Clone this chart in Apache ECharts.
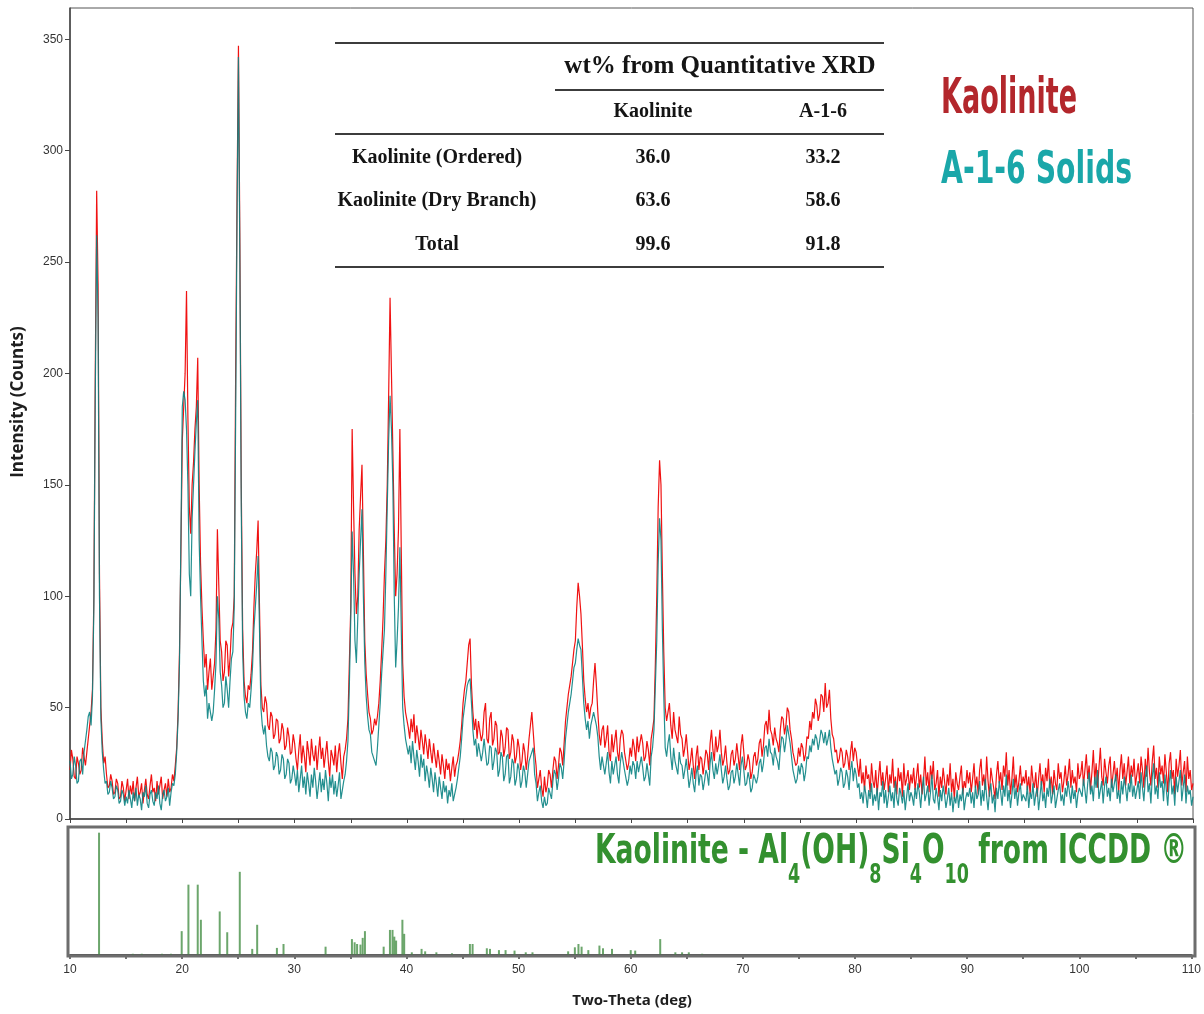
<!DOCTYPE html>
<html>
<head>
<meta charset="utf-8">
<script src="https://cdn.jsdelivr.net/npm/echarts@6/dist/echarts.min.js"></script>
<style>
  html, body { margin: 0; padding: 0; background: #fff; }
  #chart { width: 1204px; height: 1014px; }
</style>
</head>
<body>
<div id="chart"></div>
<script>
// XRD scan: 2-theta from 10 to 110 deg, 0.125 deg per step
const scanStart = 10;
const scanStep = 0.125;

// Kaolinite standard, counts (one row = 5 deg)
const kaoliniteCounts = [
  22, 31, 27, 19, 18, 28, 25, 20, 22, 32, 28, 24, 30, 36, 42, 48, 58, 100, 200, 282, 240, 110, 50, 35, 25, 28, 20, 14, 15, 20, 17, 11, 12, 18, 16, 9, 10, 17, 14, 8,
  13, 18, 9, 15, 11, 17, 8, 14, 19, 10, 12, 16, 7, 13, 18, 11, 9, 15, 20, 12, 14, 8, 17, 11, 15, 19, 9, 13, 16, 10, 18, 12, 14, 20, 17, 24, 32, 48, 75, 120,
  170, 185, 200, 237, 180, 140, 128, 150, 160, 175, 185, 207, 150, 115, 95, 80, 68, 74, 58, 66, 72, 58, 64, 70, 85, 130, 105, 80, 75, 62, 66, 80, 78, 64, 72, 85, 88, 100, 200, 280,
  347, 260, 150, 85, 62, 55, 52, 60, 58, 65, 75, 95, 110, 120, 134, 95, 60, 50, 48, 55, 52, 42, 40, 48, 46, 36, 38, 45, 44, 34, 36, 43, 40, 31, 33, 41, 37, 29, 30, 38,
  34, 27, 22, 31, 38, 25, 33, 28, 21, 35, 30, 24, 36, 29, 26, 33, 22, 30, 37, 27, 32, 23, 29, 35, 26, 19, 31, 28, 24, 33, 21, 29, 34, 25, 18, 28, 31, 36, 45, 70,
  95, 175, 140, 110, 92, 100, 130, 145, 159, 120, 80, 65, 56, 48, 45, 38, 40, 45, 42, 46, 52, 62, 75, 90, 110, 125, 150, 190, 234, 200, 165, 130, 100, 110, 130, 175, 120, 70, 55, 48,
  48, 41, 36, 45, 39, 47, 34, 42, 37, 31, 40, 35, 29, 38, 33, 27, 36, 30, 25, 34, 28, 23, 31, 26, 20, 29, 24, 18, 27, 22, 25, 17, 23, 28, 19, 24, 26, 30, 35, 42,
  52, 58, 62, 70, 78, 81, 60, 48, 40, 45, 36, 44, 44, 35, 38, 48, 52, 36, 34, 45, 48, 33, 36, 44, 42, 29, 30, 40, 37, 28, 32, 41, 40, 27, 30, 38, 35, 25, 28, 36,
  32, 22, 26, 34, 30, 22, 28, 36, 36, 48, 48, 30, 24, 14, 18, 22, 14, 10, 19, 12, 15, 22, 20, 14, 22, 28, 26, 18, 24, 32, 30, 24, 34, 44, 50, 56, 56, 64, 70, 76,
  80, 95, 106, 100, 92, 78, 62, 54, 48, 52, 45, 50, 52, 62, 70, 60, 48, 38, 33, 40, 42, 32, 36, 42, 30, 26, 38, 30, 35, 40, 30, 26, 36, 40, 38, 30, 30, 22, 25, 32,
  28, 36, 32, 26, 37, 30, 30, 38, 34, 26, 28, 35, 31, 24, 36, 40, 45, 70, 100, 140, 161, 150, 110, 75, 50, 44, 48, 52, 42, 36, 48, 40, 40, 34, 46, 38, 36, 28, 32, 38,
  30, 22, 26, 32, 24, 18, 28, 33, 22, 28, 27, 20, 25, 31, 29, 22, 34, 40, 31, 26, 37, 30, 33, 40, 30, 24, 27, 33, 25, 20, 22, 29, 31, 24, 27, 34, 28, 22, 33, 38,
  30, 22, 24, 29, 26, 18, 21, 28, 30, 24, 27, 34, 36, 28, 33, 42, 44, 38, 49, 40, 38, 33, 41, 36, 34, 30, 40, 46, 45, 38, 42, 50, 48, 40, 36, 30, 30, 24, 25, 32,
  28, 34, 32, 26, 29, 37, 36, 44, 40, 48, 45, 54, 51, 44, 47, 56, 55, 48, 61, 50, 52, 58, 45, 38, 36, 30, 31, 25, 27, 32, 30, 23, 25, 31, 28, 22, 30, 35, 26, 32,
  30, 24, 19, 27, 16, 21, 13, 24, 18, 20, 12, 25, 17, 14, 22, 11, 19, 26, 15, 21, 13, 18, 24, 12, 20, 16, 27, 14, 19, 11, 23, 17, 21, 10, 25, 15, 18, 22, 13, 20,
  16, 23, 13, 19, 25, 14, 20, 11, 17, 28, 15, 21, 12, 24, 18, 26, 13, 16, 22, 10, 19, 14, 23, 17, 11, 20, 15, 25, 12, 18, 9, 21, 16, 13, 19, 24, 11, 17, 14, 22,
  16, 21, 12, 18, 25, 14, 19, 11, 22, 27, 15, 20, 13, 28, 17, 10, 23, 18, 14, 9, 20, 26, 16, 21, 13, 24, 19, 30, 15, 22, 11, 18, 28, 14, 20, 12, 17, 24, 15, 19,
  16, 22, 13, 19, 11, 24, 17, 14, 21, 10, 18, 25, 15, 20, 12, 23, 17, 27, 14, 19, 11, 22, 16, 13, 25, 18, 21, 12, 17, 24, 15, 20, 27, 14, 22, 16, 19, 12, 25, 18,
  20, 26, 15, 22, 29, 18, 24, 13, 21, 31, 17, 25, 14, 23, 32, 19, 15, 27, 21, 16, 24, 28, 14, 20, 26, 17, 23, 12, 22, 29, 18, 25, 15, 21, 28, 16, 24, 19, 27, 15,
  20, 25, 16, 28, 22, 14, 27, 19, 32, 21, 15, 26, 33, 18, 23, 14, 28, 20, 24, 16, 29, 21, 12, 25, 30, 18, 22, 11, 27, 19, 24, 31, 15, 21, 26, 12, 28, 18, 22, 13, 16
];

// A-1-6 solids, counts (same scan)
const a16Counts = [
  26, 18, 20, 28, 24, 16, 17, 26, 27, 20, 30, 35, 40, 46, 48, 42, 55, 95, 190, 262, 225, 100, 45, 30, 22, 16, 17, 11, 12, 17, 14, 9, 10, 15, 13, 7, 8, 13, 11, 6,
  10, 7, 13, 9, 5, 12, 8, 14, 6, 11, 9, 4, 12, 10, 15, 7, 5, 11, 13, 8, 6, 12, 9, 15, 7, 4, 11, 13, 8, 10, 14, 6, 12, 16, 15, 20, 30, 45, 70, 125,
  185, 192, 188, 175, 150, 110, 100, 135, 150, 165, 178, 188, 125, 100, 80, 62, 55, 60, 45, 52, 52, 44, 48, 58, 70, 100, 90, 66, 60, 50, 52, 64, 58, 50, 62, 72, 75, 95, 180, 270,
  342, 250, 140, 75, 55, 48, 45, 52, 50, 58, 68, 85, 95, 105, 118, 85, 50, 42, 38, 42, 33, 28, 26, 32, 30, 22, 24, 30, 28, 20, 22, 29, 27, 18, 20, 27, 25, 16, 18, 24,
  20, 15, 22, 12, 18, 24, 14, 19, 11, 21, 16, 10, 20, 14, 23, 17, 9, 15, 21, 12, 18, 13, 22, 16, 8, 19, 14, 20, 11, 17, 10, 15, 21, 9, 13, 17, 20, 26, 35, 60,
  90, 129, 110, 80, 70, 90, 110, 125, 139, 100, 70, 55, 46, 40, 38, 30, 30, 26, 24, 32, 42, 52, 65, 75, 85, 110, 140, 170, 190, 175, 150, 100, 68, 80, 95, 122, 85, 50, 42, 36,
  36, 29, 33, 25, 35, 28, 22, 31, 26, 19, 29, 23, 27, 17, 24, 20, 14, 23, 18, 12, 21, 16, 10, 19, 14, 9, 17, 12, 15, 7, 13, 10, 16, 8, 11, 14, 18, 23, 28, 36,
  45, 50, 55, 60, 62, 63, 52, 40, 33, 36, 28, 34, 34, 26, 30, 36, 36, 24, 25, 33, 32, 22, 26, 32, 30, 19, 22, 30, 28, 17, 20, 28, 29, 16, 19, 27, 25, 15, 18, 25,
  22, 14, 17, 24, 21, 14, 20, 26, 26, 30, 32, 20, 16, 8, 12, 15, 8, 5, 10, 6, 7, 14, 14, 9, 17, 22, 20, 13, 18, 25, 23, 18, 26, 36, 42, 48, 48, 56, 62, 68,
  70, 76, 81, 78, 76, 64, 52, 45, 40, 44, 36, 42, 42, 48, 48, 42, 37, 28, 22, 28, 28, 20, 25, 30, 21, 16, 26, 20, 24, 28, 20, 16, 25, 30, 30, 22, 22, 15, 18, 24,
  20, 26, 24, 18, 26, 21, 21, 28, 23, 17, 19, 25, 20, 15, 28, 32, 40, 60, 80, 115, 135, 125, 85, 55, 32, 28, 34, 38, 28, 22, 32, 26, 26, 20, 30, 25, 24, 18, 22, 27,
  21, 14, 18, 23, 16, 12, 20, 24, 15, 20, 19, 13, 17, 22, 20, 15, 25, 30, 22, 18, 25, 20, 24, 29, 22, 16, 19, 24, 18, 13, 15, 21, 22, 16, 19, 25, 20, 15, 24, 28,
  22, 15, 16, 21, 18, 12, 14, 20, 20, 16, 19, 25, 27, 21, 25, 32, 33, 28, 36, 30, 29, 24, 32, 28, 26, 22, 31, 37, 36, 30, 35, 42, 42, 34, 28, 22, 22, 16, 18, 24,
  20, 25, 23, 17, 21, 28, 27, 33, 30, 36, 33, 38, 36, 31, 35, 40, 38, 34, 39, 33, 36, 40, 32, 27, 27, 20, 22, 15, 18, 23, 21, 14, 16, 22, 19, 13, 22, 26, 17, 23,
  20, 14, 16, 9, 12, 7, 15, 11, 5, 13, 9, 16, 6, 11, 8, 14, 4, 12, 10, 17, 7, 13, 5, 10, 15, 8, 12, 5, 17, 9, 6, 14, 11, 7, 13, 4, 10, 16, 8, 12,
  10, 6, 14, 9, 16, 12, 5, 13, 19, 8, 11, 15, 6, 12, 20, 9, 7, 14, 10, 4, 13, 8, 15, 11, 5, 9, 14, 6, 12, 3, 10, 7, 13, 5, 11, 8, 14, 4, 9, 12,
  10, 14, 7, 12, 5, 15, 9, 11, 17, 6, 13, 8, 18, 10, 4, 12, 16, 7, 11, 3, 14, 9, 17, 12, 6, 15, 10, 20, 8, 13, 5, 11, 18, 9, 14, 6, 12, 16, 8, 11,
  11, 8, 15, 5, 12, 9, 16, 6, 11, 14, 4, 10, 17, 8, 12, 5, 14, 10, 18, 7, 11, 15, 5, 9, 13, 16, 8, 11, 6, 14, 10, 17, 12, 7, 15, 9, 13, 5, 11, 14,
  14, 10, 18, 13, 7, 16, 21, 11, 15, 8, 19, 14, 22, 9, 13, 17, 7, 15, 19, 10, 14, 8, 18, 12, 16, 20, 9, 13, 7, 17, 11, 19, 14, 8, 16, 12, 20, 10, 15, 9,
  13, 17, 9, 21, 14, 8, 18, 24, 12, 16, 7, 19, 25, 11, 15, 9, 21, 14, 17, 8, 20, 13, 6, 16, 22, 11, 15, 6, 19, 12, 17, 22, 8, 14, 20, 7, 15, 11, 13, 6, 10
];

// Kaolinite reference pattern (ICCDD): line positions and relative intensities (%)
const stickTheta = [12.59, 15.6, 16.4, 18.2, 19.0, 19.96, 20.56, 21.39, 21.67, 23.35, 24.02, 25.14,
  26.25, 26.69, 28.45, 29.04, 32.79, 35.14, 35.38, 35.6, 35.9, 36.1, 36.3, 37.97, 38.53, 38.76,
  38.92, 39.08, 39.64, 39.8, 40.48, 41.35, 41.67, 42.67, 44.06, 45.66, 45.9, 47.17, 47.45, 48.25,
  48.84, 49.64, 50.64, 51.24, 54.42, 55.02, 55.34, 55.62, 56.22, 57.21, 57.53, 58.33, 60.0, 60.4,
  62.63, 63.98, 64.58, 65.18, 66.37];
const stickRel = [100, 1, 1, 1, 1, 19.5, 57.5, 57.5, 28.8, 35.6, 18.6, 68,
  5, 24.7, 5.8, 9, 6.8, 13, 10.4, 9, 8.5, 14, 19.5, 6.8, 20.5, 20.5,
  15, 11.8, 28.8, 17.3, 2.2, 5, 3, 2.2, 1.4, 9, 9, 5.5, 5, 4,
  4, 3.6, 2.2, 2.2, 3, 6.3, 9, 6.8, 4, 7.7, 5.5, 5, 4, 3.6,
  13, 2.2, 2.2, 2.2, 1];

// Axis ticks
const yTicks = [0, 50, 100, 150, 200, 250, 300, 350];
const xLabelTicks = [10, 20, 30, 40, 50, 60, 70, 80, 90, 100, 110];

// Quantitative XRD table
const tableTitle = 'wt% from Quantitative XRD';
const tableColumns = ['Kaolinite', 'A-1-6'];
const tableRows = ['Kaolinite (Ordered)', 'Kaolinite (Dry Branch)', 'Total'];
const tableKaolinite = ['36.0', '63.6', '99.6'];
const tableA16 = ['33.2', '58.6', '91.8'];

// ---------------------------------------------------------------
const nPoints = Math.round((110 - scanStart) / scanStep) + 1;
if (kaoliniteCounts.length !== nPoints || a16Counts.length !== nPoints) {
  throw new Error('scan length ' + kaoliniteCounts.length + ' / ' + a16Counts.length + ', expected ' + nPoints);
}
const toPairs = (arr) => arr.map((v, i) => [scanStart + i * scanStep, v]);
const sticks = stickTheta.map((t, i) => [t, stickRel[i]]);

const mctx = document.createElement('canvas').getContext('2d');
function measure(str, size, family) {
  mctx.font = 'bold ' + size + 'px ' + family;
  return mctx.measureText(str).width;
}

const NARROW = '"DejaVu Sans Condensed", "DejaVu Sans", sans-serif';
const SERIF = '"Liberation Serif", "Times New Roman", serif';

// Condensed bold text stretched to a given width
function fittedText(str, x, yMid, size, targetW, color) {
  const w = measure(str, size, NARROW);
  return {
    type: 'text', x: x, y: yMid, scaleX: targetW / w, z: 50,
    style: { text: str, fontSize: size, fontWeight: 'bold', fontFamily: NARROW,
      fill: color, align: 'left', verticalAlign: 'middle' }
  };
}

// Chemical formula title with subscripts
function formulaTitle(parts, x0, targetW, yMain, ySub, mainSize, subSize, color) {
  const widths = parts.map(p => measure(p[0], p[1] ? subSize : mainSize, NARROW));
  const total = widths.reduce((a, b) => a + b, 0);
  const s = targetW / total;
  let x = x0;
  return parts.map((p, i) => {
    const el = {
      type: 'text', x: x, y: p[1] ? ySub : yMain, scaleX: s, z: 50,
      style: { text: p[0], fontSize: p[1] ? subSize : mainSize, fontWeight: 'bold',
        fontFamily: NARROW, fill: color, align: 'left', verticalAlign: 'middle' }
    };
    x += widths[i] * s;
    return el;
  });
}

function hLine(x1, x2, y) {
  return { type: 'line', z: 40, shape: { x1: x1, y1: y, x2: x2, y2: y },
    style: { stroke: '#3c3c3c', lineWidth: 2 } };
}
function cellText(str, cx, cy, size) {
  return { type: 'text', x: cx, y: cy, z: 40,
    style: { text: str, fontSize: size, fontWeight: 'bold', fontFamily: SERIF,
      fill: '#141414', align: 'center', verticalAlign: 'middle' } };
}

const tableEls = [
  hLine(335, 884, 43),
  cellText(tableTitle, 720, 67, 25),
  hLine(555, 884, 90),
  cellText(tableColumns[0], 653, 112, 20),
  cellText(tableColumns[1], 823, 112, 20),
  hLine(335, 884, 134)
];
const rowY = [158, 201, 245];
tableRows.forEach((r, i) => {
  tableEls.push(cellText(r, 437, rowY[i], 20));
  tableEls.push(cellText(tableKaolinite[i], 653, rowY[i], 20));
  tableEls.push(cellText(tableA16[i], 823, rowY[i], 20));
});
tableEls.push(hLine(335, 884, 267));

const titleParts = [['Kaolinite - Al', 0], ['4', 1], ['(OH)', 0], ['8', 1], ['Si', 0], ['4', 1],
  ['O', 0], ['10', 1], [' from ICCDD \u00AE', 0]];

const graphicEls = [].concat(
  tableEls,
  [
    fittedText('Kaolinite', 941, 100, 50, 136, '#b3272c'),
    fittedText('A-1-6 Solids', 941, 172, 44, 191, '#1aa7a9'),
    { type: 'rect', z: 30, shape: { x: 68, y: 827, width: 1127, height: 129 },
      style: { fill: 'none', stroke: '#6d6d6d', lineWidth: 3 } },
    { type: 'text', x: 18, y: 402, rotation: Math.PI / 2, z: 40,
      style: { text: 'Intensity (Counts)', fontSize: 17, fontWeight: 'bold', fontFamily: '"Open Sans", sans-serif',
        fill: '#1e1e1e', align: 'center', verticalAlign: 'middle' } },
    { type: 'text', x: 632, y: 1001, z: 40,
      style: { text: 'Two-Theta (deg)', fontSize: 15, fontWeight: 'bold', fontFamily: '"Open Sans", sans-serif',
        fill: '#1e1e1e', align: 'center', verticalAlign: 'middle' } }
  ],
  formulaTitle(titleParts, 595, 592, 852, 876, 41, 27, '#33902f')
);

const chart = echarts.init(document.getElementById('chart'), null, { renderer: 'canvas' });
chart.setOption({
  animation: false,
  backgroundColor: '#ffffff',
  grid: [
    { left: 70, top: 8, width: 1123, height: 811, show: true, borderColor: '#555', borderWidth: 1,
      backgroundColor: 'transparent' },
    { left: 70, top: 829, width: 1123, height: 126 }
  ],
  xAxis: [
    { gridIndex: 0, type: 'value', min: 10, max: 110, interval: 5,
      axisLine: { show: true, onZero: false, lineStyle: { color: '#444', width: 1.5 } },
      axisTick: { show: true, length: 4, lineStyle: { color: '#444' } },
      axisLabel: { show: false }, splitLine: { show: false } },
    { gridIndex: 1, type: 'value', min: 10, max: 110, interval: 5,
      axisLine: { show: true, onZero: false, lineStyle: { color: '#555', width: 3 } },
      axisTick: { show: true, length: 4, lineStyle: { color: '#444', width: 1.5 } },
      axisLabel: { customValues: xLabelTicks, margin: 9, fontSize: 12, color: '#333',
        fontFamily: '"Liberation Sans", Arial, sans-serif' },
      splitLine: { show: false } }
  ],
  yAxis: [
    { gridIndex: 0, type: 'value', min: 0, max: 364,
      axisLine: { show: true, lineStyle: { color: '#444', width: 1.5 } },
      axisTick: { show: true, customValues: yTicks, length: 5, lineStyle: { color: '#444' } },
      axisLabel: { customValues: yTicks, margin: 7, fontSize: 12, color: '#333',
        fontFamily: '"Liberation Sans", Arial, sans-serif' },
      splitLine: { show: false } },
    { gridIndex: 1, type: 'value', min: 0, max: 103, show: false, splitLine: { show: false } }
  ],
  series: [
    { name: 'Kaolinite', type: 'line', xAxisIndex: 0, yAxisIndex: 0, data: toPairs(kaoliniteCounts),
      showSymbol: false, symbol: 'none', z: 2,
      lineStyle: { color: '#f01212', width: 1.2 } },
    { name: 'A-1-6 Solids', type: 'line', xAxisIndex: 0, yAxisIndex: 0, data: toPairs(a16Counts),
      showSymbol: false, symbol: 'none', z: 3,
      lineStyle: { color: '#0b8383', width: 1.2, opacity: 0.9 } },
    { name: 'ICCDD Kaolinite', type: 'bar', xAxisIndex: 1, yAxisIndex: 1, data: sticks,
      barWidth: 2, itemStyle: { color: 'rgba(45,128,45,0.7)' } }
  ],
  graphic: { elements: graphicEls }
});
</script>
</body>
</html>
